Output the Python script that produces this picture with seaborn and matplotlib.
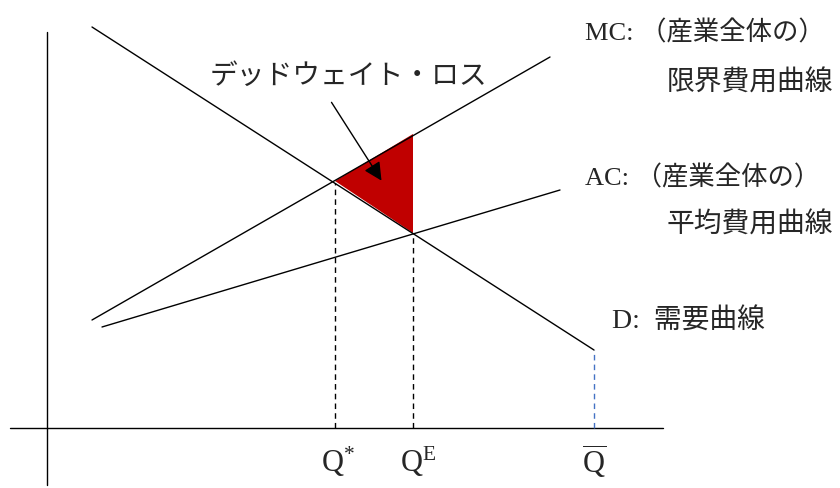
import matplotlib
matplotlib.use("Agg")
import matplotlib.pyplot as plt
import seaborn as sns
import pandas as pd

sns.set_style("white")
plt.rcParams['font.family'] = ['Liberation Serif', 'Noto Sans CJK JP', 'DejaVu Sans']
plt.rcParams['mathtext.fontset'] = 'custom'
plt.rcParams['mathtext.rm'] = 'Liberation Serif'
plt.rcParams['mathtext.it'] = 'Liberation Serif:italic'

# Curves (quantity, price) endpoints, in diagram units
demand_q = [45, 547]
demand_p = [401, 78]
mc_q = [45, 503]
mc_p = [108, 371]
ac_q = [55, 513]
ac_p = [101, 238]

q_star = 288
q_e = 366
q_bar = 547

dwl_q = [288, 366, 366]
dwl_p = [247, 294, 195]

labels_mc = "MC: （産業全体の）"
labels_mc2 = "限界費用曲線"
labels_ac = "AC: （産業全体の）"
labels_ac2 = "平均費用曲線"
label_d = "D:  需要曲線"
label_dwl = "デッドウェイト・ロス"

fig = plt.figure(figsize=(8.4, 4.88), dpi=100)
ax = fig.add_axes([0, 0, 1, 1])
ax.set_xlim(-47, 793)
ax.set_ylim(-60, 428)
ax.axis('off')

# axes of the diagram
ax.plot([-37, 616], [0, 0], color='black', lw=1.0)
ax.plot([0, 0], [-57, 396], color='black', lw=1.0)

# deadweight loss triangle
ax.fill(dwl_q, dwl_p, color='#C00000', lw=0, zorder=1)

for qs, ps in [(demand_q, demand_p), (mc_q, mc_p), (ac_q, ac_p)]:
    df = pd.DataFrame({'q': qs, 'p': ps})
    sns.lineplot(data=df, x='q', y='p', color='black', lw=1.0, ax=ax,
                 estimator=None, sort=False, zorder=3)

# dashed guides
def price_on(qs, ps, q):
    return ps[0] + (ps[1] - ps[0]) * (q - qs[0]) / (qs[1] - qs[0])

ax.plot([q_star, q_star], [0, price_on(demand_q, demand_p, q_star)],
        color='black', lw=1.0, ls=(0, (4, 3)))
ax.plot([q_e, q_e], [0, price_on(demand_q, demand_p, q_e)],
        color='black', lw=1.0, ls=(0, (4, 3)))
ax.plot([q_bar, q_bar], [0, demand_p[1]], color='#4472C4', lw=1.0,
        ls=(0, (4, 3)))

ax.set_xlabel('')
ax.set_ylabel('')

# arrow to the triangle
ax.annotate('', xy=(336, 245), xytext=(283, 328),
            arrowprops=dict(arrowstyle='-|>,head_length=1.1,head_width=0.55',
                            color='black', lw=1.0))

fs = 20
ax.text(301, 351, label_dwl, fontsize=fs, ha='center', va='center')
ax.text(538, 395, labels_mc, fontsize=19, ha='left', va='center')
ax.text(620, 344, labels_mc2, fontsize=fs, ha='left', va='center')
ax.text(538, 250, labels_ac, fontsize=19, ha='left', va='center')
ax.text(620, 202, labels_ac2, fontsize=fs, ha='left', va='center')
ax.text(565, 106, label_d, fontsize=fs, ha='left', va='center')

qfs = 22
ax.text(q_star + 3, -34, r'$\mathrm{Q}^{*}$', fontsize=qfs, ha='center', va='center')
ax.text(q_e + 5, -34, r'$\mathrm{Q}^{\mathrm{E}}$', fontsize=qfs, ha='center', va='center')
ax.text(q_bar, -34, r'$\overline{\mathrm{Q}}$', fontsize=qfs, ha='center', va='center')

fig.savefig('out.png', dpi=100)
